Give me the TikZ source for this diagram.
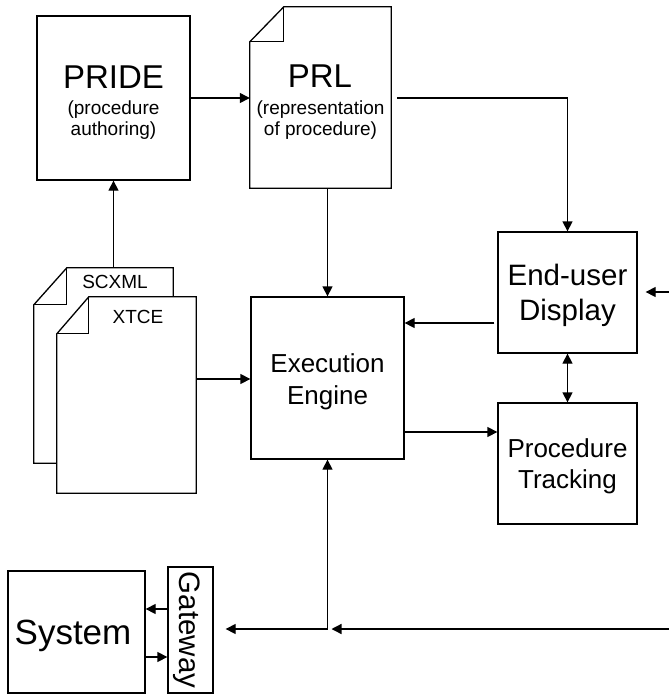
\documentclass[tikz,border=0pt]{standalone}
\usepackage{fontspec}
\setmainfont{Liberation Sans}
\usetikzlibrary{arrows.meta,calc}
\begin{document}
\begin{tikzpicture}[x=1pt,y=-1pt,
  ln/.style={line width=1.3pt,draw=black},
  box/.style={ln,rectangle,inner sep=0pt,fill=white},
  ghost/.style={rectangle,inner sep=0pt,draw=none},
  txt/.style={inner sep=0pt,anchor=base},
  arr/.style={ln,-{Triangle[length=10pt,width=10pt]}},
  arrtwo/.style={ln,{Triangle[length=10pt,width=10pt]}-{Triangle[length=10pt,width=10pt]}},
  big/.style={font=\fontsize{33}{36}\selectfont},
  small/.style={font=\fontsize{19}{21}\selectfont},
  mid/.style={font=\fontsize{26}{30}\selectfont}
]
\useasboundingbox (0,0) rectangle (669,694);

% PRIDE
\node[box,minimum width=153pt,minimum height=164pt] (pride) at (113.5,98) {};
\node[txt,big] (tpride) at (113.5,88) {PRIDE};
\node[txt,small] (tpride1) at (113.5,114) {(procedure};
\node[txt,small] (tpride2) at (113.5,135) {authoring)};

% PRL document
\node[ghost,minimum width=141pt,minimum height=181pt] (prl) at (320.5,97.5) {};
\draw[ln,fill=white] ($(prl.north west)+(0,35)$) -- ($(prl.north west)+(34,0)$) -- (prl.north east) -- (prl.south east) -- (prl.south west) -- cycle;
\draw[ln] ($(prl.north west)+(34,0)$) -- ($(prl.north west)+(34,35)$) -- ($(prl.north west)+(0,35)$);
\node[txt,big] (tprl) at (320,87) {PRL};
\node[txt,small] (tprl1) at (320.5,114) {(representation};
\node[txt,small] (tprl2) at (320.5,135) {of procedure)};

% SCXML document
\node[ghost,minimum width=139pt,minimum height=195pt] (scxml) at (103.5,365.5) {};
\draw[ln,fill=white] ($(scxml.north west)+(0,37)$) -- ($(scxml.north west)+(33,0)$) -- (scxml.north east) -- (scxml.south east) -- (scxml.south west) -- cycle;
\draw[ln] ($(scxml.north west)+(33,0)$) -- ($(scxml.north west)+(33,37)$) -- ($(scxml.north west)+(0,37)$);
\node[txt,small] (tscxml) at (115,288) {SCXML};

% XTCE document
\node[ghost,minimum width=139pt,minimum height=196pt] (xtce) at (126.5,395) {};
\draw[ln,fill=white] ($(xtce.north west)+(0,37)$) -- ($(xtce.north west)+(32,0)$) -- (xtce.north east) -- (xtce.south east) -- (xtce.south west) -- cycle;
\draw[ln] ($(xtce.north west)+(32,0)$) -- ($(xtce.north west)+(32,37)$) -- ($(xtce.north west)+(0,37)$);
\node[txt,small] (txtce) at (138,323) {XTCE};

% Execution Engine
\node[box,minimum width=153pt,minimum height=162pt] (exec) at (327.5,378) {};
\node[txt,mid] (texec1) at (327.5,372.5) {Execution};
\node[txt,mid] (texec2) at (327.5,404) {Engine};

% End-user Display
\node[box,minimum width=139pt,minimum height=121pt] (disp) at (567.5,292.5) {};
\node[txt,font=\fontsize{29.5}{32}\selectfont] (tdisp1) at (567.5,285) {End-user};
\node[txt,font=\fontsize{29.5}{32}\selectfont] (tdisp2) at (567.5,320) {Display};

% Procedure Tracking
\node[box,minimum width=139pt,minimum height=121pt] (track) at (567.5,463.5) {};
\node[txt,mid] (ttrack1) at (567.5,457) {Procedure};
\node[txt,mid] (ttrack2) at (567.5,488) {Tracking};

% System and Gateway
\node[box,minimum width=137pt,minimum height=122pt] (sys) at (76.5,632) {};
\node[txt,font=\fontsize{35}{38}\selectfont] (tsys) at (73,644) {System};
\node[box,minimum width=45pt,minimum height=126pt] (gate) at (190.5,630) {};
\node[inner sep=0pt,anchor=base,rotate=-90,font=\fontsize{29.5}{32}\selectfont] (tgate) at (179,630) {Gateway};

% free ends
\coordinate (rin) at (669,292);
\coordinate (bin) at (669,629);
\coordinate (junc) at (327.5,629);

% connectors
\draw[arr] (pride.east) -- (prl.west |- pride.east);
\draw[arr] ([xshift=6pt]prl.east |- pride.east) -| (disp.north);
\draw[arr] (exec.north |- prl.south) -- (exec.north);
\draw[arr] (pride.south |- scxml.north) -- (pride.south);
\draw[arr] (xtce.east |- 0,379) -- (exec.west |- 0,379);
\draw[arr] ([xshift=-3pt]disp.west |- 0,323) -- (exec.east |- 0,323);
\draw[arr] (exec.east |- 0,432) -- (track.west |- 0,432);
\draw[arrtwo] (disp.south) -- (track.north);
\draw[arr] (rin) -- ([xshift=8pt]disp.east |- rin);
\draw[arr] (bin) -- ([xshift=4pt]junc);
\draw[arrtwo] (exec.south) -- (junc) -- ([xshift=12pt]gate.east |- junc);
\draw[arr] (gate.west |- 0,609) -- (sys.east |- 0,609);
\draw[arr] (sys.east |- 0,657) -- (gate.west |- 0,657);
\end{tikzpicture}
\end{document}
